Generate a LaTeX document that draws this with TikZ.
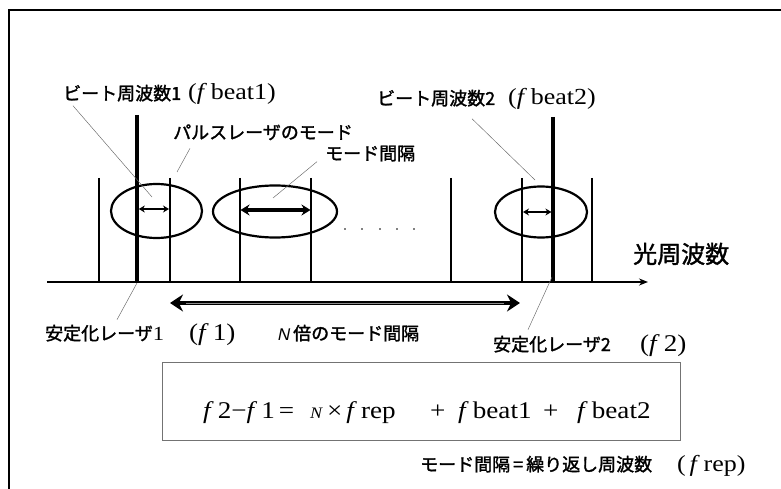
\documentclass[tikz,border=0pt]{standalone}
\usepackage{fontspec}
\setmainfont{Liberation Serif}[FakeStretch=1.13]
\newfontfamily\jp{Noto Sans CJK JP}[FakeBold=1.6]
\newfontfamily\nfont{Liberation Sans}[FakeSlant=0.2]
\usetikzlibrary{arrows.meta,calc}
\begin{document}
\begin{tikzpicture}[x=1pt,y=-1pt,
  frameline/.style={line width=1.6pt},
  axisline/.style={line width=1.9pt,-{Stealth[length=9pt,width=7pt]}},
  modeline/.style={line width=2pt},
  laserline/.style={line width=3.4pt},
  ring/.style={line width=2.2pt},
  smallarr/.style={line width=1.9pt,{Stealth[length=6pt,width=7pt]}-{Stealth[length=6pt,width=7pt]}},
  bigarr/.style={line width=3.4pt,{Stealth[length=9pt,width=11pt]}-{Stealth[length=9pt,width=11pt]}},
  longarr/.style={line width=3.4pt,{Stealth[length=13pt,width=17pt]}-{Stealth[length=13pt,width=17pt]}},
  leader/.style={line width=0.45pt, black!60},
  lbl/.style={inner sep=0pt, anchor=base west, font=\jp\fontsize{18}{18}\selectfont},
  ser/.style={inner sep=0pt, anchor=base west, font=\rmfamily\fontsize{23}{23}\selectfont},
  eq/.style={inner sep=0pt, anchor=base west, font=\rmfamily\fontsize{24}{24}\selectfont},
  dot/.style={fill=black, inner sep=0pt, minimum size=1.8pt, circle}
]
\useasboundingbox (0,0) rectangle (781,489);
% frame
\draw[frameline] (9,495) -- (9,10) -- (790,10);

% axis
\coordinate (ax0) at (47,282);
\coordinate (ax1) at (648,282);
\draw[axisline] (ax0) -- (ax1);

% mode lines
\foreach \x/\n in {99/m1,170/m2,240/m3,311/m4,451/m5,522/m6,592/m7}{
  \coordinate (\n t) at (\x,178);
  \coordinate (\n b) at (\x,282);
  \draw[modeline] (\n t) -- (\n b);
}
\coordinate (l1t) at (137,115); \coordinate (l1b) at (137,283);
\coordinate (l2t) at (553,117); \coordinate (l2b) at (553,283);
\draw[laserline] (l1t) -- (l1b);
\draw[laserline] (l2t) -- (l2b);

% ellipses
\draw[ring] (156.5,211) ellipse [x radius=45.5pt, y radius=27pt];
\draw[ring] (275,211.5) ellipse [x radius=62pt, y radius=26pt];
\draw[ring] (541,212) ellipse [x radius=46pt, y radius=25.5pt];

% arrows inside
\coordinate (a1l) at (138.8,209); \coordinate (a1r) at (169,209);
\draw[smallarr] (a1l) -- (a1r);
\coordinate (a2l) at (240.5,210); \coordinate (a2r) at (310.5,210);
\draw[bigarr] (a2l) -- (a2r);
\coordinate (a3l) at (523,212); \coordinate (a3r) at (551.4,212);
\draw[smallarr] (a3l) -- (a3r);

% dots
\foreach \x [count=\i] in {345,362,380,397,414}{ \node[dot] (d\i) at (\x,229) {}; }

% long arrow
\coordinate (la) at (170,303); \coordinate (lb) at (520,303);
\draw[longarr] (la) -- (lb);
\draw[line width=0.8pt, white!55!black] ($(la)+(16,0)$) -- ($(lb)-(16,0)$);

% labels
\node[lbl] (beat1) at (63,100) {ビート周波数1};
\node[ser] (beat1f) at (188,100) {(\textit{f}\,beat1)};
\node[lbl] (pulse) at (173,139) {パルスレーザのモード};
\node[lbl] (spacing) at (325,160) {モード間隔};
\node[lbl] (beat2) at (377,105) {ビート周波数2};
\node[ser] (beat2f) at (508,105) {(\textit{f}\,beat2)};
\node[lbl, font=\jp\fontsize{24}{24}\selectfont] (axislbl) at (633,263) {光周波数};
\node[lbl] (stab1) at (45,340) {安定化レーザ{\rmfamily\fontsize{20}{20}\selectfont 1}};
\node[ser, font=\rmfamily\fontsize{24}{24}\selectfont] (stab1f) at (189,340) {(\textit{f}\,1)};
\node[lbl, font=\nfont\fontsize{17}{17}\selectfont] (nlet) at (277,340) {N};
\node[lbl] (nmult) at (293,340) {倍のモード間隔};
\node[lbl] (stab2) at (493,351) {安定化レーザ2};
\node[ser, font=\rmfamily\fontsize{24}{24}\selectfont] (stab2f) at (640,351) {(\textit{f}\,2)};

% formula box
\node[draw=black!55, line width=0.7pt, minimum width=518pt, minimum height=78pt, inner sep=0pt] (box) at (421,401) {};
\node[eq] (eq1) at (203,418) {\textit{f}\,2−\textit{f}\,1\,=};
\node[eq] (eq2) at (310,418) {{\fontsize{16}{16}\selectfont\textit{N}}\,×\,\textit{f}\,rep};
\node[eq] (eq3) at (430,418) {+};
\node[eq] (eq4) at (458,418) {\textit{f}\,beat1};
\node[eq] (eq5) at (543,418) {+};
\node[eq] (eq6) at (577,418) {\textit{f}\,beat2};

\node[lbl] (note) at (420,471) {モード間隔\,=\,繰り返し周波数};
\node[ser] (notef) at (677,471) {(\,\textit{f}\,rep)};

% leaders
\coordinate (b1e) at (152,197);
\draw[leader] ($(beat1.south west)+(10,4)$) -- (b1e);
\coordinate (pme) at (177,172);
\draw[leader] ($(pulse.south west)+(17,8)$) -- (pme);
\coordinate (spe) at (273,198);
\draw[leader] ($(spacing.south west)+(-8,0)$) -- (spe);
\coordinate (b2e) at (535,180);
\draw[leader] ($(beat2.south west)+(95,12)$) -- (b2e);
\coordinate (s1a) at (137,283);
\draw[leader] (s1a) -- ($(stab1.north west)+(72,-5)$);
\coordinate (s2a) at (552,277);
\draw[leader] (s2a) -- ($(stab2.north west)+(35,-6)$);
\end{tikzpicture}
\end{document}
